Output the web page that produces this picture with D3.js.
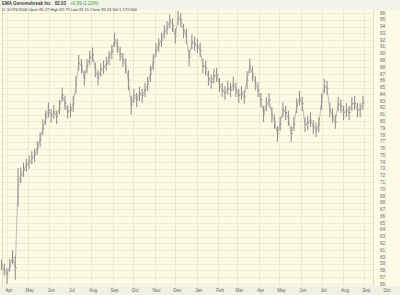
<!DOCTYPE html>
<html><head><meta charset="utf-8">
<script src="https://cdn.jsdelivr.net/npm/d3@7"></script>
<style>html,body{margin:0;padding:0;background:#fdfce9;}svg{display:block;}</style>
</head><body>
<script>
const titleText = "EMA Genomebreak Inc";
const lastPrice = "82.03";
const changeText = "+0.99 (1.22%)";
const infoText = "D: 10/31/2006 Open 81.27 High 82.79 Low 81.11 Close 82.03 Vol 1,172,600";
const startDate = "2005-03-24";
const stepDays = 4;
const monthLabels = ["Apr","May","Jun","Jul","Aug","Sep","Oct","Nov","Dec","Jan","Feb","Mar","Apr","May","Jun","Jul","Aug","Sep","Oct"];
const yTicks = d3.range(56, 97);
const highs = [59.6,59.0,58.3,59.7,61.0,60.2,73.1,73.2,73.9,74.5,75.0,75.6,76.0,77.1,78.4,80.3,81.6,82.8,81.8,82.4,
81.6,83.1,85.0,83.8,82.4,82.7,83.8,86.7,89.8,89.2,87.5,89.2,90.4,90.9,88.7,87.5,88.6,89.0,89.5,90.4,
91.3,93.1,92.2,91.0,90.1,89.3,87.6,83.8,84.8,84.2,85.1,84.8,85.7,86.6,88.2,89.9,91.6,92.3,93.1,94.2,
94.8,95.8,95.2,93.7,96.3,96.0,94.4,93.7,90.6,92.8,92.5,92.2,91.6,89.3,89.0,87.5,86.9,87.8,87.9,86.4,
85.7,85.2,86.0,85.7,86.6,85.7,84.8,85.2,84.6,87.4,89.3,88.1,86.7,85.7,84.2,82.3,83.6,84.2,82.1,81.0,
79.3,80.7,82.8,82.3,81.6,79.3,80.7,83.4,84.5,83.6,80.6,80.8,81.3,80.2,79.8,80.6,84.1,86.3,86.0,82.8,
81.9,81.0,83.6,83.3,82.3,82.7,82.3,83.6,83.8,82.7,82.7,83.8];
const lows = [58.0,57.2,56.0,57.8,59.0,56.6,67.4,70.9,71.8,72.6,73.0,73.7,74.0,75.1,76.2,78.0,79.5,80.6,79.8,80.4,
79.6,81.0,82.9,81.7,80.4,80.6,81.4,84.1,87.5,87.1,85.3,87.1,88.3,88.8,86.5,85.3,86.6,87.0,87.5,88.3,
89.2,91.0,90.1,88.9,88.0,87.1,84.6,81.0,82.7,82.1,83.0,82.7,83.6,84.5,85.8,87.6,89.5,90.2,91.0,92.2,
92.8,93.8,93.2,91.5,94.2,93.9,92.3,91.5,88.1,90.7,90.4,90.1,89.5,87.1,86.8,85.3,84.8,85.6,85.8,84.3,
83.6,83.2,83.9,83.6,84.5,83.6,82.7,83.2,82.6,84.8,87.1,85.9,84.6,83.6,82.1,79.9,81.5,82.1,79.8,78.9,
77.0,78.6,80.6,80.2,79.4,77.0,78.6,81.2,82.4,81.5,78.4,78.7,79.2,78.1,77.7,78.4,81.7,84.2,83.9,80.6,
79.8,78.9,81.5,81.2,80.2,80.6,80.2,81.5,81.7,80.6,80.6,81.7];
const closes = [58.8,58.1,57.4,58.7,59.9,58.4,70.6,72.1,72.8,73.6,74.0,74.6,75.1,76.1,77.3,79.0,80.5,81.7,80.8,81.4,
80.7,82.0,83.9,82.7,81.4,81.7,82.6,85.4,88.6,88.2,86.4,88.2,89.4,89.8,87.6,86.4,87.6,88.0,88.5,89.4,
90.3,92.0,91.1,90.0,89.1,88.2,86.1,82.4,83.8,83.2,84.1,83.8,84.6,85.5,87.0,88.8,90.5,91.3,92.0,93.2,
93.8,94.8,94.2,92.6,95.3,95.0,93.4,92.6,89.4,91.7,91.4,91.1,90.5,88.2,87.9,86.4,85.8,86.7,86.9,85.4,
84.6,84.2,84.9,84.6,85.5,84.6,83.8,84.2,83.6,86.1,88.2,87.0,85.7,84.6,83.2,81.1,82.6,83.2,81.0,79.9,
78.2,79.6,81.7,81.3,80.5,78.2,79.6,82.3,83.5,82.6,79.5,79.8,80.2,79.2,78.7,79.5,82.9,85.2,84.9,81.7,
80.8,79.9,82.6,82.3,81.3,81.7,81.3,82.6,82.7,81.7,81.7,82.7];

const W = 400, H = 295;
const plot = {left: 2, right: 373, top: 10, bottom: 286};
const svg = d3.select("body").append("svg").attr("width", W).attr("height", H)
  .style("font-family", "'Liberation Sans', Arial, sans-serif");

svg.append("rect").attr("width", W).attr("height", H).attr("fill", "#fcfbe6");
svg.append("rect").attr("width", W).attr("height", plot.top).attr("fill", "#f4f3e8");
svg.append("rect").attr("y", plot.bottom).attr("width", W).attr("height", H - plot.bottom).attr("fill", "#f1f0e4");

const x = d3.scaleTime().domain([new Date(2005, 3, 1), new Date(2006, 9, 1)]).range([7, 385]);
const y = d3.scaleLinear().domain([56, 96]).range([284, 13]);

const start = d3.timeParse("%Y-%m-%d")(startDate);
const bars = highs.map((h, i) => ({date: d3.timeDay.offset(start, i * stepDays), high: h, low: lows[i], close: closes[i]}));

// grid
const g = svg.append("g");
g.selectAll("line.h").data(yTicks).join("line")
  .attr("x1", plot.left).attr("x2", plot.right)
  .attr("y1", d => Math.round(y(d)) + 0.5).attr("y2", d => Math.round(y(d)) + 0.5)
  .attr("stroke", "#f0ebcf").attr("stroke-width", 1);
const months = d3.timeMonth.range(new Date(2005, 3, 1), new Date(2006, 10, 1));
g.selectAll("line.v").data(months).join("line")
  .attr("x1", d => Math.round(x(d)) + 0.5).attr("x2", d => Math.round(x(d)) + 0.5)
  .attr("y1", plot.top).attr("y2", plot.bottom)
  .attr("stroke", "#f0ebcf").attr("stroke-width", 1);
svg.append("line").attr("x1", plot.left + 0.5).attr("x2", plot.left + 0.5).attr("y1", plot.top).attr("y2", plot.bottom).attr("stroke", "#e2ddc0");
svg.append("line").attr("x1", plot.right + 0.5).attr("x2", plot.right + 0.5).attr("y1", plot.top).attr("y2", plot.bottom).attr("stroke", "#e2ddc0");

// bars
const bg = svg.append("g").attr("stroke", "#8a8a8a").attr("stroke-width", 1);
bg.selectAll("line.hl").data(bars).join("line")
  .attr("x1", d => x(d.date)).attr("x2", d => x(d.date))
  .attr("y1", d => y(d.high)).attr("y2", d => y(d.low));
bg.selectAll("line.cl").data(bars).join("line")
  .attr("x1", d => x(d.date)).attr("x2", d => x(d.date) + 1.5)
  .attr("y1", d => y(d.close)).attr("y2", d => y(d.close));
svg.append("path").datum(bars)
  .attr("fill", "none").attr("stroke", "#a0a0a0").attr("stroke-width", 0.7)
  .attr("d", d3.line().x(d => x(d.date)).y(d => y(d.close)));

// y axis labels
svg.append("g").selectAll("text").data(yTicks).join("text")
  .attr("x", 380).attr("y", d => y(d) + 1.6)
  .attr("font-size", 4.5).attr("fill", "#666").text(d => d);

// x labels
svg.append("g").selectAll("text").data(months.slice(0, monthLabels.length)).join("text")
  .attr("x", d => x(d) + 2).attr("y", 292).attr("text-anchor", "middle")
  .attr("font-size", 4.5).attr("fill", "#666").text((d, i) => monthLabels[i]);

// header
const t1 = svg.append("text").attr("x", 2).attr("y", 5.3).attr("font-size", 4.5).attr("font-weight", "bold").attr("fill", "#444");
t1.append("tspan").text(titleText);
t1.append("tspan").attr("dx", 4).text(lastPrice);
t1.append("tspan").attr("dx", 4).attr("fill", "#3a9a3a").attr("font-weight", "normal").text(changeText);
svg.append("text").attr("x", 2).attr("y", 10.6).attr("font-size", 4).attr("fill", "#444").text(infoText);
</script>
</body></html>
